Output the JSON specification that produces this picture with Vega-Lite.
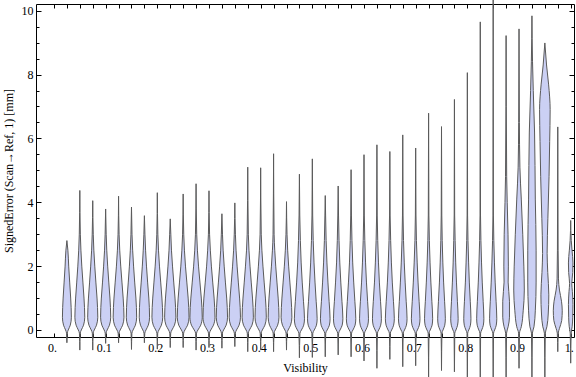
{
"$schema": "https://vega.github.io/schema/vega-lite/v6.json",
"width": 538, "height": 333,
"autosize": {"type": "none"},
"padding": {"left": 36, "top": 4, "right": 2, "bottom": 40},
"background": "white",
"config": {
 "view": {"stroke": "#000", "strokeWidth": 1},
 "axis": {"domain": false, "grid": false, "labelFont": "Liberation Serif", "labelFontSize": 12, "labelColor": "#000", "tickColor": "#000", "tickWidth": 1, "titleFont": "Liberation Serif", "titleFontSize": 12, "titleFontWeight": "normal", "titleColor": "#000", "labelFlush": false, "labelOverlap": false, "labelBound": false}
},
"data": {"values": [
{"v":0.025,"y":-0.4,"w":0},{"v":0.025,"y":-0.1,"w":0.6},{"v":0.025,"y":0,"w":2.3},{"v":0.025,"y":0.15,"w":5.8},{"v":0.025,"y":0.4,"w":7.7},{"v":0.025,"y":1,"w":6.5},{"v":0.025,"y":1.5,"w":4.8},{"v":0.025,"y":2,"w":3.1},{"v":0.025,"y":2.5,"w":1.7},{"v":0.025,"y":2.8,"w":0},
{"v":0.05,"y":-0.63,"w":0},{"v":0.05,"y":-0.1,"w":0.7},{"v":0.05,"y":0,"w":2.6},{"v":0.05,"y":0.15,"w":6.4},{"v":0.05,"y":0.4,"w":8.5},{"v":0.05,"y":1,"w":7.2},{"v":0.05,"y":1.5,"w":5.3},{"v":0.05,"y":2,"w":3.4},{"v":0.05,"y":2.5,"w":1.9},{"v":0.05,"y":3,"w":0.9},{"v":0.05,"y":4.37,"w":0},
{"v":0.075,"y":-0.63,"w":0},{"v":0.075,"y":-0.1,"w":0.7},{"v":0.075,"y":0,"w":2.6},{"v":0.075,"y":0.15,"w":6.5},{"v":0.075,"y":0.4,"w":8.7},{"v":0.075,"y":1,"w":7.4},{"v":0.075,"y":1.5,"w":5.4},{"v":0.075,"y":2,"w":3.5},{"v":0.075,"y":2.5,"w":1.9},{"v":0.075,"y":3,"w":0.9},{"v":0.075,"y":4.05,"w":0},
{"v":0.1,"y":-0.42,"w":0},{"v":0.1,"y":-0.1,"w":0.7},{"v":0.1,"y":0,"w":2.6},{"v":0.1,"y":0.15,"w":6.5},{"v":0.1,"y":0.4,"w":8.7},{"v":0.1,"y":1,"w":7.4},{"v":0.1,"y":1.5,"w":5.4},{"v":0.1,"y":2,"w":3.5},{"v":0.1,"y":2.5,"w":1.9},{"v":0.1,"y":3,"w":0.9},{"v":0.1,"y":3.79,"w":0},
{"v":0.125,"y":-0.4,"w":0},{"v":0.125,"y":-0.1,"w":0.7},{"v":0.125,"y":0,"w":2.8},{"v":0.125,"y":0.15,"w":7.0},{"v":0.125,"y":0.4,"w":9.3},{"v":0.125,"y":1,"w":7.9},{"v":0.125,"y":1.5,"w":5.8},{"v":0.125,"y":2,"w":3.7},{"v":0.125,"y":2.5,"w":2.0},{"v":0.125,"y":3,"w":0.9},{"v":0.125,"y":4.19,"w":0},
{"v":0.15,"y":-0.61,"w":0},{"v":0.15,"y":-0.1,"w":0.7},{"v":0.15,"y":0,"w":2.7},{"v":0.15,"y":0.15,"w":6.7},{"v":0.15,"y":0.4,"w":8.9},{"v":0.15,"y":1,"w":7.6},{"v":0.15,"y":1.5,"w":5.5},{"v":0.15,"y":2,"w":3.6},{"v":0.15,"y":2.5,"w":2.0},{"v":0.15,"y":3,"w":0.9},{"v":0.15,"y":3.85,"w":0},
{"v":0.175,"y":-0.4,"w":0},{"v":0.175,"y":-0.1,"w":0.7},{"v":0.175,"y":0,"w":2.7},{"v":0.175,"y":0.15,"w":6.7},{"v":0.175,"y":0.4,"w":8.9},{"v":0.175,"y":1,"w":7.6},{"v":0.175,"y":1.5,"w":5.5},{"v":0.175,"y":2,"w":3.6},{"v":0.175,"y":2.5,"w":2.0},{"v":0.175,"y":3,"w":0.9},{"v":0.175,"y":3.58,"w":0},
{"v":0.2,"y":-0.6,"w":0},{"v":0.2,"y":-0.1,"w":0.7},{"v":0.2,"y":0,"w":2.8},{"v":0.2,"y":0.15,"w":7.0},{"v":0.2,"y":0.4,"w":9.3},{"v":0.2,"y":1,"w":7.9},{"v":0.2,"y":1.5,"w":5.8},{"v":0.2,"y":2,"w":3.7},{"v":0.2,"y":2.5,"w":2.0},{"v":0.2,"y":3,"w":0.9},{"v":0.2,"y":4.3,"w":0},
{"v":0.225,"y":-0.55,"w":0},{"v":0.225,"y":-0.1,"w":0.8},{"v":0.225,"y":0,"w":2.9},{"v":0.225,"y":0.15,"w":7.3},{"v":0.225,"y":0.4,"w":9.7},{"v":0.225,"y":1,"w":8.2},{"v":0.225,"y":1.5,"w":6.0},{"v":0.225,"y":2,"w":3.9},{"v":0.225,"y":2.5,"w":2.1},{"v":0.225,"y":3,"w":1.0},{"v":0.225,"y":3.48,"w":0},
{"v":0.25,"y":-0.55,"w":0},{"v":0.25,"y":-0.1,"w":0.8},{"v":0.25,"y":0,"w":3.0},{"v":0.25,"y":0.15,"w":7.6},{"v":0.25,"y":0.4,"w":10.1},{"v":0.25,"y":1,"w":8.6},{"v":0.25,"y":1.5,"w":6.3},{"v":0.25,"y":2,"w":4.0},{"v":0.25,"y":2.5,"w":2.2},{"v":0.25,"y":3,"w":1.0},{"v":0.25,"y":4.26,"w":0},
{"v":0.275,"y":-0.63,"w":0},{"v":0.275,"y":-0.1,"w":0.8},{"v":0.275,"y":0,"w":3.2},{"v":0.275,"y":0.15,"w":8.0},{"v":0.275,"y":0.4,"w":10.6},{"v":0.275,"y":1,"w":9.0},{"v":0.275,"y":1.5,"w":6.6},{"v":0.275,"y":2,"w":4.2},{"v":0.275,"y":2.5,"w":2.3},{"v":0.275,"y":3,"w":1.1},{"v":0.275,"y":4.58,"w":0},
{"v":0.3,"y":-0.55,"w":0},{"v":0.3,"y":-0.1,"w":0.8},{"v":0.3,"y":0,"w":3.1},{"v":0.3,"y":0.15,"w":7.7},{"v":0.3,"y":0.4,"w":10.3},{"v":0.3,"y":1,"w":8.8},{"v":0.3,"y":1.5,"w":6.4},{"v":0.3,"y":2,"w":4.1},{"v":0.3,"y":2.5,"w":2.3},{"v":0.3,"y":3,"w":1.0},{"v":0.3,"y":4.36,"w":0},
{"v":0.325,"y":-0.57,"w":0},{"v":0.325,"y":-0.1,"w":0.8},{"v":0.325,"y":0,"w":2.9},{"v":0.325,"y":0.15,"w":7.3},{"v":0.325,"y":0.4,"w":9.7},{"v":0.325,"y":1,"w":8.2},{"v":0.325,"y":1.5,"w":6.0},{"v":0.325,"y":2,"w":3.9},{"v":0.325,"y":2.5,"w":2.1},{"v":0.325,"y":3,"w":1.0},{"v":0.325,"y":3.64,"w":0},
{"v":0.35,"y":-0.52,"w":0},{"v":0.35,"y":-0.1,"w":0.8},{"v":0.35,"y":0,"w":2.9},{"v":0.35,"y":0.15,"w":7.3},{"v":0.35,"y":0.4,"w":9.7},{"v":0.35,"y":1,"w":8.2},{"v":0.35,"y":1.5,"w":6.0},{"v":0.35,"y":2,"w":3.9},{"v":0.35,"y":2.5,"w":2.1},{"v":0.35,"y":3,"w":1.0},{"v":0.35,"y":3.98,"w":0},
{"v":0.375,"y":-0.68,"w":0},{"v":0.375,"y":-0.1,"w":0.8},{"v":0.375,"y":0,"w":2.9},{"v":0.375,"y":0.15,"w":7.3},{"v":0.375,"y":0.4,"w":9.7},{"v":0.375,"y":1,"w":8.2},{"v":0.375,"y":1.5,"w":6.0},{"v":0.375,"y":2,"w":3.9},{"v":0.375,"y":2.5,"w":2.1},{"v":0.375,"y":3,"w":1.0},{"v":0.375,"y":5.1,"w":0},
{"v":0.4,"y":-0.63,"w":0},{"v":0.4,"y":-0.1,"w":0.8},{"v":0.4,"y":0,"w":2.9},{"v":0.4,"y":0.15,"w":7.3},{"v":0.4,"y":0.4,"w":9.7},{"v":0.4,"y":1,"w":8.2},{"v":0.4,"y":1.5,"w":6.0},{"v":0.4,"y":2,"w":3.9},{"v":0.4,"y":2.5,"w":2.1},{"v":0.4,"y":3,"w":1.0},{"v":0.4,"y":5.08,"w":0},
{"v":0.425,"y":-0.68,"w":0},{"v":0.425,"y":-0.1,"w":0.7},{"v":0.425,"y":0,"w":2.8},{"v":0.425,"y":0.15,"w":7.0},{"v":0.425,"y":0.4,"w":9.3},{"v":0.425,"y":1,"w":7.9},{"v":0.425,"y":1.5,"w":5.8},{"v":0.425,"y":2,"w":3.7},{"v":0.425,"y":2.5,"w":2.0},{"v":0.425,"y":3,"w":0.9},{"v":0.425,"y":5.52,"w":0},
{"v":0.45,"y":-0.63,"w":0},{"v":0.45,"y":-0.1,"w":0.7},{"v":0.45,"y":0,"w":2.8},{"v":0.45,"y":0.15,"w":7.0},{"v":0.45,"y":0.4,"w":9.3},{"v":0.45,"y":1,"w":7.9},{"v":0.45,"y":1.5,"w":5.8},{"v":0.45,"y":2,"w":3.7},{"v":0.45,"y":2.5,"w":2.0},{"v":0.45,"y":3,"w":0.9},{"v":0.45,"y":4.02,"w":0},
{"v":0.475,"y":-0.87,"w":0},{"v":0.475,"y":-0.1,"w":0.9},{"v":0.475,"y":0,"w":3.5},{"v":0.475,"y":0.15,"w":7.4},{"v":0.475,"y":0.35,"w":8.7},{"v":0.475,"y":0.9,"w":7.0},{"v":0.475,"y":1.5,"w":4.8},{"v":0.475,"y":2.1,"w":3.0},{"v":0.475,"y":2.8,"w":1.6},{"v":0.475,"y":3.6,"w":0.6},{"v":0.475,"y":4.88,"w":0},
{"v":0.5,"y":-0.86,"w":0},{"v":0.5,"y":-0.1,"w":0.8},{"v":0.5,"y":0,"w":3.3},{"v":0.5,"y":0.15,"w":7.1},{"v":0.5,"y":0.35,"w":8.3},{"v":0.5,"y":0.9,"w":6.6},{"v":0.5,"y":1.5,"w":4.6},{"v":0.5,"y":2.1,"w":2.9},{"v":0.5,"y":2.8,"w":1.5},{"v":0.5,"y":3.6,"w":0.6},{"v":0.5,"y":5.36,"w":0},
{"v":0.525,"y":-0.84,"w":0},{"v":0.525,"y":-0.1,"w":0.8},{"v":0.525,"y":0,"w":3.3},{"v":0.525,"y":0.15,"w":7.1},{"v":0.525,"y":0.35,"w":8.3},{"v":0.525,"y":0.9,"w":6.6},{"v":0.525,"y":1.5,"w":4.6},{"v":0.525,"y":2.1,"w":2.9},{"v":0.525,"y":2.8,"w":1.5},{"v":0.525,"y":3.6,"w":0.6},{"v":0.525,"y":4.21,"w":0},
{"v":0.55,"y":-0.78,"w":0},{"v":0.55,"y":-0.1,"w":0.8},{"v":0.55,"y":0,"w":3.2},{"v":0.55,"y":0.15,"w":6.9},{"v":0.55,"y":0.35,"w":8.1},{"v":0.55,"y":0.9,"w":6.5},{"v":0.55,"y":1.5,"w":4.5},{"v":0.55,"y":2.1,"w":2.8},{"v":0.55,"y":2.8,"w":1.5},{"v":0.55,"y":3.6,"w":0.6},{"v":0.55,"y":4.51,"w":0},
{"v":0.575,"y":-0.84,"w":0},{"v":0.575,"y":-0.1,"w":0.8},{"v":0.575,"y":0,"w":3.2},{"v":0.575,"y":0.15,"w":6.9},{"v":0.575,"y":0.35,"w":8.1},{"v":0.575,"y":0.9,"w":6.5},{"v":0.575,"y":1.5,"w":4.5},{"v":0.575,"y":2.1,"w":2.8},{"v":0.575,"y":2.8,"w":1.5},{"v":0.575,"y":3.6,"w":0.6},{"v":0.575,"y":5.02,"w":0},
{"v":0.6,"y":-0.97,"w":0},{"v":0.6,"y":-0.1,"w":0.8},{"v":0.6,"y":0,"w":3.1},{"v":0.6,"y":0.15,"w":6.5},{"v":0.6,"y":0.35,"w":7.7},{"v":0.6,"y":0.9,"w":6.2},{"v":0.6,"y":1.5,"w":4.2},{"v":0.6,"y":2.1,"w":2.7},{"v":0.6,"y":2.8,"w":1.4},{"v":0.6,"y":3.6,"w":0.5},{"v":0.6,"y":5.49,"w":0},
{"v":0.625,"y":-1.2,"w":0},{"v":0.625,"y":-0.1,"w":0.8},{"v":0.625,"y":0,"w":3.1},{"v":0.625,"y":0.15,"w":6.5},{"v":0.625,"y":0.35,"w":7.7},{"v":0.625,"y":0.9,"w":6.2},{"v":0.625,"y":1.5,"w":4.2},{"v":0.625,"y":2.1,"w":2.7},{"v":0.625,"y":2.8,"w":1.4},{"v":0.625,"y":3.6,"w":0.5},{"v":0.625,"y":5.8,"w":0},
{"v":0.65,"y":-0.92,"w":0},{"v":0.65,"y":-0.1,"w":0.8},{"v":0.65,"y":0,"w":3.1},{"v":0.65,"y":0.15,"w":6.5},{"v":0.65,"y":0.35,"w":7.7},{"v":0.65,"y":0.9,"w":6.2},{"v":0.65,"y":1.5,"w":4.2},{"v":0.65,"y":2.1,"w":2.7},{"v":0.65,"y":2.8,"w":1.4},{"v":0.65,"y":3.6,"w":0.5},{"v":0.65,"y":5.59,"w":0},
{"v":0.675,"y":-1.15,"w":0},{"v":0.675,"y":-0.1,"w":0.7},{"v":0.675,"y":0,"w":3.0},{"v":0.675,"y":0.15,"w":6.3},{"v":0.675,"y":0.35,"w":7.4},{"v":0.675,"y":0.9,"w":5.9},{"v":0.675,"y":1.5,"w":4.1},{"v":0.675,"y":2.1,"w":2.6},{"v":0.675,"y":2.8,"w":1.3},{"v":0.675,"y":3.6,"w":0.5},{"v":0.675,"y":6.11,"w":0},
{"v":0.7,"y":-1.12,"w":0},{"v":0.7,"y":-0.1,"w":0.7},{"v":0.7,"y":0,"w":3.0},{"v":0.7,"y":0.15,"w":6.3},{"v":0.7,"y":0.35,"w":7.4},{"v":0.7,"y":0.9,"w":5.9},{"v":0.7,"y":1.5,"w":4.1},{"v":0.7,"y":2.1,"w":2.6},{"v":0.7,"y":2.8,"w":1.3},{"v":0.7,"y":3.6,"w":0.5},{"v":0.7,"y":5.7,"w":0},
{"v":0.725,"y":-1.6,"w":0},{"v":0.725,"y":-0.1,"w":0.7},{"v":0.725,"y":0,"w":2.8},{"v":0.725,"y":0.15,"w":6.0},{"v":0.725,"y":0.35,"w":7.0},{"v":0.725,"y":0.9,"w":5.6},{"v":0.725,"y":1.5,"w":3.9},{"v":0.725,"y":2.1,"w":2.5},{"v":0.725,"y":2.8,"w":1.3},{"v":0.725,"y":3.6,"w":0.5},{"v":0.725,"y":6.79,"w":0},
{"v":0.75,"y":-1.27,"w":0},{"v":0.75,"y":-0.1,"w":0.7},{"v":0.75,"y":0,"w":2.6},{"v":0.75,"y":0.15,"w":5.6},{"v":0.75,"y":0.35,"w":6.6},{"v":0.75,"y":0.9,"w":5.3},{"v":0.75,"y":1.5,"w":3.6},{"v":0.75,"y":2.1,"w":2.3},{"v":0.75,"y":2.8,"w":1.2},{"v":0.75,"y":3.6,"w":0.5},{"v":0.75,"y":6.37,"w":0},
{"v":0.775,"y":-1.31,"w":0},{"v":0.775,"y":-0.1,"w":0.6},{"v":0.775,"y":0,"w":2.6},{"v":0.775,"y":0.15,"w":5.4},{"v":0.775,"y":0.35,"w":6.4},{"v":0.775,"y":0.9,"w":5.1},{"v":0.775,"y":1.5,"w":3.5},{"v":0.775,"y":2.1,"w":2.2},{"v":0.775,"y":2.8,"w":1.2},{"v":0.775,"y":3.6,"w":0.4},{"v":0.775,"y":7.22,"w":0},
{"v":0.8,"y":-1.6,"w":0},{"v":0.8,"y":-0.1,"w":0.6},{"v":0.8,"y":0,"w":2.5},{"v":0.8,"y":0.15,"w":5.3},{"v":0.8,"y":0.35,"w":6.2},{"v":0.8,"y":0.9,"w":5.0},{"v":0.8,"y":1.5,"w":3.4},{"v":0.8,"y":2.1,"w":2.2},{"v":0.8,"y":2.8,"w":1.1},{"v":0.8,"y":3.6,"w":0.4},{"v":0.8,"y":8.06,"w":0},
{"v":0.825,"y":-1.6,"w":0},{"v":0.825,"y":-0.1,"w":0.6},{"v":0.825,"y":0,"w":2.5},{"v":0.825,"y":0.15,"w":5.3},{"v":0.825,"y":0.35,"w":6.2},{"v":0.825,"y":0.9,"w":5.0},{"v":0.825,"y":1.5,"w":3.4},{"v":0.825,"y":2.1,"w":2.2},{"v":0.825,"y":2.8,"w":1.1},{"v":0.825,"y":3.6,"w":0.4},{"v":0.825,"y":9.65,"w":0},
{"v":0.85,"y":-1.6,"w":0},{"v":0.85,"y":-0.1,"w":0.6},{"v":0.85,"y":0,"w":2.5},{"v":0.85,"y":0.15,"w":5.3},{"v":0.85,"y":0.35,"w":6.2},{"v":0.85,"y":0.9,"w":5.0},{"v":0.85,"y":1.5,"w":3.4},{"v":0.85,"y":2.1,"w":2.2},{"v":0.85,"y":2.8,"w":1.1},{"v":0.85,"y":3.6,"w":0.4},{"v":0.85,"y":10.4,"w":0},
{"v":0.875,"y":-1.6,"w":0},{"v":0.875,"y":-0.1,"w":0.8},{"v":0.875,"y":0.1,"w":3.5},{"v":0.875,"y":0.4,"w":5.8},{"v":0.875,"y":0.9,"w":5.8},{"v":0.875,"y":1.5,"w":3.5},{"v":0.875,"y":2,"w":3.9},{"v":0.875,"y":3,"w":3.3},{"v":0.875,"y":4,"w":1.9},{"v":0.875,"y":4.8,"w":1.0},{"v":0.875,"y":9.22,"w":0},
{"v":0.9,"y":-1.2,"w":0},{"v":0.9,"y":-0.1,"w":0.8},{"v":0.9,"y":0.1,"w":3.9},{"v":0.9,"y":0.6,"w":7.2},{"v":0.9,"y":1.25,"w":9.1},{"v":0.9,"y":2,"w":8.3},{"v":0.9,"y":3,"w":6.4},{"v":0.9,"y":4.1,"w":3.9},{"v":0.9,"y":5.1,"w":1.5},{"v":0.9,"y":6.5,"w":0.6},{"v":0.9,"y":9.43,"w":0},
{"v":0.925,"y":-1.6,"w":0},{"v":0.925,"y":-0.1,"w":0.8},{"v":0.925,"y":0.1,"w":3.5},{"v":0.925,"y":0.6,"w":5.8},{"v":0.925,"y":1.5,"w":7.2},{"v":0.925,"y":2.5,"w":7.2},{"v":0.925,"y":4.1,"w":5.8},{"v":0.925,"y":6.2,"w":4.5},{"v":0.925,"y":7.5,"w":2.3},{"v":0.925,"y":8.4,"w":1.0},{"v":0.925,"y":9.84,"w":0},
{"v":0.95,"y":-1.6,"w":0},{"v":0.95,"y":-0.1,"w":0.8},{"v":0.95,"y":0.1,"w":3.5},{"v":0.95,"y":0.5,"w":5.8},{"v":0.95,"y":1.1,"w":6.8},{"v":0.95,"y":1.8,"w":5.0},{"v":0.95,"y":2.4,"w":3.9},{"v":0.95,"y":3.5,"w":5.2},{"v":0.95,"y":4.8,"w":7.2},{"v":0.95,"y":5.9,"w":8.3},{"v":0.95,"y":6.9,"w":9.1},{"v":0.95,"y":7.7,"w":6.4},{"v":0.95,"y":8.3,"w":2.9},{"v":0.95,"y":8.99,"w":0},
{"v":0.975,"y":-0.68,"w":0},{"v":0.975,"y":-0.1,"w":0.8},{"v":0.975,"y":0.05,"w":2.9},{"v":0.975,"y":0.3,"w":6.8},{"v":0.975,"y":0.6,"w":7.7},{"v":0.975,"y":0.9,"w":6.4},{"v":0.975,"y":1.25,"w":2.9},{"v":0.975,"y":1.6,"w":1.2},{"v":0.975,"y":2.5,"w":0.6},{"v":0.975,"y":6.36,"w":0},
{"v":1,"y":-1.04,"w":0},{"v":1,"y":-0.1,"w":0.8},{"v":1,"y":0.1,"w":2.5},{"v":1,"y":0.4,"w":3.5},{"v":1,"y":0.8,"w":3.9},{"v":1,"y":1.2,"w":2.9},{"v":1,"y":1.45,"w":1.9},{"v":1,"y":1.8,"w":3.5},{"v":1,"y":2.1,"w":3.9},{"v":1,"y":2.5,"w":2.3},{"v":1,"y":2.8,"w":1.0},{"v":1,"y":3.43,"w":0}
]},
"transform": [
 {"calculate": "datum.v - datum.w/890", "as": "lo"},
 {"calculate": "datum.v + datum.w/890", "as": "hi"}
],
"layer": [
 {
  "mark": {"type": "area", "orient": "horizontal", "interpolate": "monotone", "fill": "#cbd0f4", "stroke": "#5a5a5a", "strokeWidth": 1},
  "encoding": {
   "y": {"field": "y", "type": "quantitative", "scale": {"domain": [-0.22, 10.21], "nice": false, "zero": false},
         "axis": {"orient": "left", "values": [0,2,4,6,8,10], "ticks": false, "labelPadding": 3, "title": "SignedError (Scan→Ref, 1) [mm]", "titlePadding": 6}},
   "x": {"field": "lo", "type": "quantitative", "scale": {"domain": [-0.0348, 1.0064], "nice": false, "zero": false},
         "axis": {"orient": "bottom", "values": [0,0.1,0.2,0.3,0.4,0.5,0.6,0.7,0.8,0.9,1], "ticks": false, "labelPadding": 5, "labelOffset": -2, "labelExpr": "datum.value == 0 ? '0.' : datum.value == 1 ? '1.' : format(datum.value, '.1f')", "title": "Visibility", "titlePadding": 9}},
   "x2": {"field": "hi"},
   "detail": {"field": "v", "type": "nominal"}
  }
 },
 {
  "mark": {"type": "point", "opacity": 0},
  "encoding": {
   "y": {"field": "y", "type": "quantitative", "scale": {"domain": [-0.22, 10.21], "nice": false, "zero": false},
         "axis": {"orient": "left", "values": [0.5,1,1.5,2.5,3,3.5,4.5,5,5.5,6.5,7,7.5,8.5,9,9.5], "labels": false, "title": null, "tickSize": 3, "offset": -3}},
   "x": {"field": "v", "type": "quantitative", "scale": {"domain": [-0.0348, 1.0064], "nice": false, "zero": false},
         "axis": {"orient": "bottom", "values": [0,0.025,0.05,0.075,0.1,0.125,0.15,0.175,0.2,0.225,0.25,0.275,0.3,0.325,0.35,0.375,0.4,0.425,0.45,0.475,0.5,0.525,0.55,0.575,0.6,0.625,0.65,0.675,0.7,0.725,0.75,0.775,0.8,0.825,0.85,0.875,0.9,0.925,0.95,0.975,1], "labels": false, "title": null, "tickSize": 4, "offset": -4}}
  }
 },
 {
  "mark": {"type": "point", "opacity": 0},
  "encoding": {
   "y": {"field": "y", "type": "quantitative", "scale": {"domain": [-0.22, 10.21], "nice": false, "zero": false},
         "axis": {"orient": "right", "values": [0.5,1,1.5,2.5,3,3.5,4.5,5,5.5,6.5,7,7.5,8.5,9,9.5], "labels": false, "title": null, "tickSize": 3, "offset": -3}},
   "x": {"field": "v", "type": "quantitative", "scale": {"domain": [-0.0348, 1.0064], "nice": false, "zero": false},
         "axis": {"orient": "top", "values": [0,0.025,0.05,0.075,0.1,0.125,0.15,0.175,0.2,0.225,0.25,0.275,0.3,0.325,0.35,0.375,0.4,0.425,0.45,0.475,0.5,0.525,0.55,0.575,0.6,0.625,0.65,0.675,0.7,0.725,0.75,0.775,0.8,0.825,0.85,0.875,0.9,0.925,0.95,0.975,1], "labels": false, "title": null, "tickSize": 4, "offset": -4}}
  }
 },
 {
  "mark": {"type": "point", "opacity": 0},
  "encoding": {
   "y": {"field": "y", "type": "quantitative", "scale": {"domain": [-0.22, 10.21], "nice": false, "zero": false},
         "axis": {"orient": "left", "values": [0,2,4,6,8,10], "labels": false, "title": null, "tickSize": 5, "offset": -5}},
   "x": {"field": "v", "type": "quantitative", "scale": {"domain": [-0.0348, 1.0064], "nice": false, "zero": false}, "axis": null}
  }
 },
 {
  "mark": {"type": "point", "opacity": 0},
  "encoding": {
   "y": {"field": "y", "type": "quantitative", "scale": {"domain": [-0.22, 10.21], "nice": false, "zero": false},
         "axis": {"orient": "right", "values": [0,2,4,6,8,10], "labels": false, "title": null, "tickSize": 5, "offset": -5}},
   "x": {"field": "v", "type": "quantitative", "scale": {"domain": [-0.0348, 1.0064], "nice": false, "zero": false}, "axis": null}
  }
 }
],
"resolve": {"axis": {"x": "independent", "y": "independent"}}
}
